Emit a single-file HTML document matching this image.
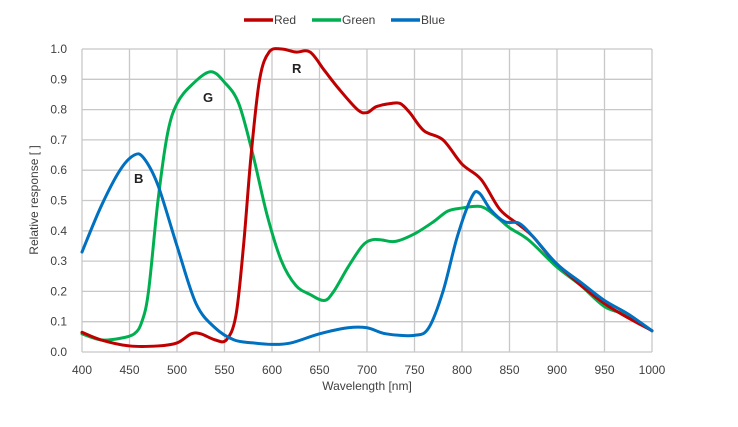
<!DOCTYPE html>
<html><head><style>
body{margin:0;background:#fff;}
svg text{font-family:"Liberation Sans",sans-serif;fill:#404040;}
</style></head><body>
<svg id="s" width="738" height="422" xmlns="http://www.w3.org/2000/svg">
<g id="grid" stroke="#c8c8c8" stroke-width="1.3" fill="none"></g>
<g id="lbl" font-size="12"></g>
<text x="367" y="390" font-size="12" text-anchor="middle">Wavelength [nm]</text>
<text transform="translate(38,200) rotate(-90)" font-size="12" text-anchor="middle">Relative response [ ]</text>
<g font-size="12">
<line x1="244" y1="20" x2="273" y2="20" stroke="#c00000" stroke-width="3.5"/><text x="274" y="24">Red</text>
<line x1="312" y1="20" x2="341" y2="20" stroke="#00b050" stroke-width="3.5"/><text x="342" y="24">Green</text>
<line x1="391" y1="20" x2="420" y2="20" stroke="#0070c0" stroke-width="3.5"/><text x="421" y="24">Blue</text>
</g>
<g font-size="13" font-weight="bold" style="fill:#222">
<text x="134" y="183" style="fill:#222">B</text><text x="203" y="102" style="fill:#222">G</text><text x="292" y="73" style="fill:#222">R</text>
</g>
<g id="curves" fill="none" stroke-width="3" stroke-linejoin="round" stroke-linecap="round"></g>
</svg>
<script>
var X=w=>82+(w-400)*0.95, Y=v=>352-v*303;
var g=document.getElementById('grid'),l=document.getElementById('lbl'),ns='http://www.w3.org/2000/svg';
function el(p,t,a,txt){var e=document.createElementNS(ns,t);for(var k in a)e.setAttribute(k,a[k]);if(txt)e.textContent=txt;p.appendChild(e);}
for(var w=400;w<=1000;w+=50){el(g,'line',{x1:X(w),x2:X(w),y1:Y(1),y2:Y(0)});el(l,'text',{x:X(w),y:374,'text-anchor':'middle'},''+w);}
for(var i=0;i<=10;i++){var v=i/10;el(g,'line',{x1:X(400),x2:X(1000),y1:Y(v),y2:Y(v)});el(l,'text',{x:67,y:Y(v)+4,'text-anchor':'end'},v.toFixed(1));}
function path(d){var p=d.map(a=>[X(a[0]),Y(a[1])]);var s='M'+p[0][0]+','+p[0][1];
for(var i=0;i<p.length-1;i++){var p0=p[i-1]||p[i],p1=p[i],p2=p[i+1],p3=p[i+2]||p2;
s+=' C'+(p1[0]+(p2[0]-p0[0])/6)+','+(p1[1]+(p2[1]-p0[1])/6)+' '+(p2[0]-(p3[0]-p1[0])/6)+','+(p2[1]-(p3[1]-p1[1])/6)+' '+p2[0]+','+p2[1];}return s;}
var G=[[400,.06],[420,.04],[440,.045],[455,.06],[463,.1],[470,.2],[480,.5],[490,.72],[500,.82],[515,.88],[535,.925],[550,.89],[565,.82],[580,.65],[595,.45],[610,.3],[625,.22],[640,.19],[655,.17],[665,.2],[680,.28],[695,.35],[705,.37],[715,.37],[730,.365],[750,.39],[770,.43],[785,.465],[800,.475],[820,.48],[835,.45],[850,.41],[870,.37],[900,.28],[925,.22],[950,.15],[975,.12],[1000,.07]];
var R=[[400,.065],[420,.04],[450,.02],[480,.02],[500,.03],[515,.06],[525,.06],[540,.04],[552,.04],[562,.12],[570,.35],[578,.65],[587,.9],[597,.99],[610,1.0],[625,.99],[640,.99],[655,.93],[670,.87],[690,.8],[700,.79],[710,.81],[725,.82],[735,.82],[745,.79],[760,.73],[780,.7],[800,.62],[820,.57],[840,.47],[860,.42],[875,.38],[900,.29],[950,.16],[1000,.07]];
var B=[[400,.33],[420,.48],[440,.6],[455,.65],[465,.64],[480,.55],[500,.35],[520,.16],[540,.08],[560,.04],[580,.03],[600,.025],[620,.03],[650,.06],[680,.08],[700,.08],[720,.06],[750,.055],[765,.08],[780,.2],[795,.38],[810,.51],[818,.525],[830,.47],[845,.43],[860,.425],[875,.38],[900,.29],[925,.23],[950,.17],[975,.125],[1000,.07]];
var c=document.getElementById('curves');
el(c,'path',{d:path(G),stroke:'#00b050'});el(c,'path',{d:path(R),stroke:'#c00000'});el(c,'path',{d:path(B),stroke:'#0070c0'});
</script>
</body></html>
